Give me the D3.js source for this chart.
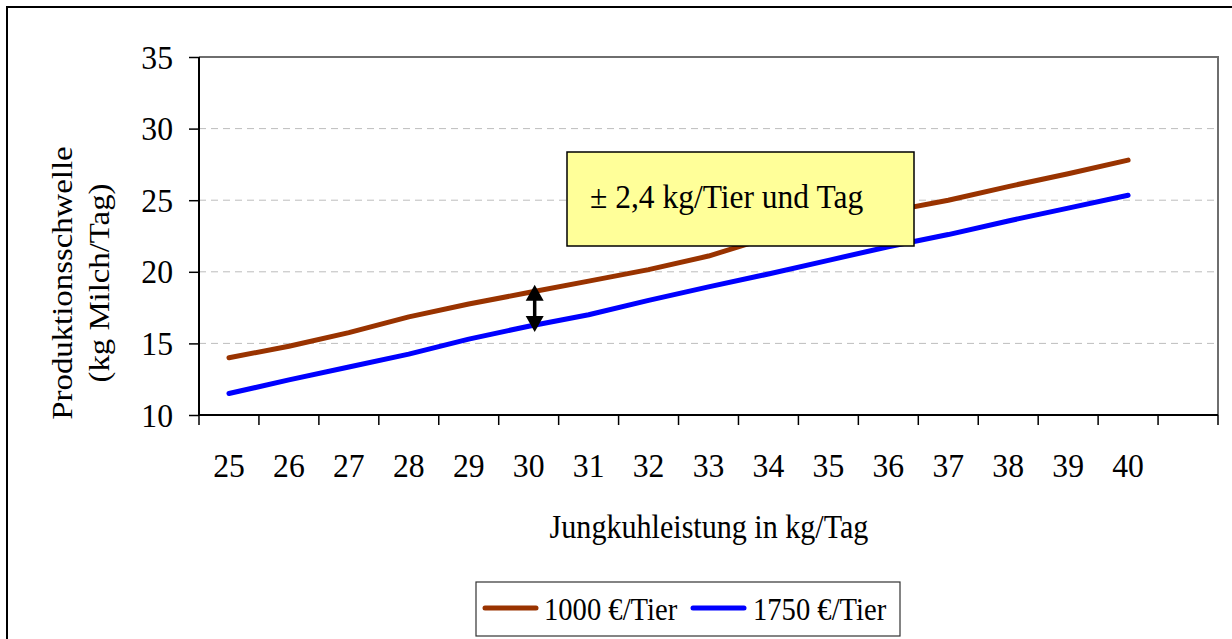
<!DOCTYPE html>
<html><head><meta charset="utf-8">
<script src="https://cdn.jsdelivr.net/npm/d3@7"></script>
<style>html,body{margin:0;padding:0;background:#fff;}svg{display:block;}</style>
</head><body>
<script>
const categories = ["25","26","27","28","29","30","31","32","33","34","35","36","37","38","39","40"];
const xDomain = categories.concat([""]);
const series1000 = [14.0,14.8,15.75,16.85,17.75,18.55,19.35,20.15,21.1,22.4,23.3,24.2,25.0,25.95,26.85,27.8];
const series1750 = [11.5,12.45,13.35,14.25,15.3,16.2,17.0,18.0,18.95,19.85,20.8,21.75,22.6,23.55,24.45,25.35];
const yTicks = [10,15,20,25,30,35];
const gridTicks = [15,20,25,30];
const seriesNames = ["1000 €/Tier","1750 €/Tier"];
const seriesColors = ["#993300","#0000FF"];
const annotationText = "± 2,4 kg/Tier und Tag";
const arrowRange = [19.1, 15.8];

const W = 1232, H = 639, SY = 1.09;
const FONT = "'Liberation Serif','Times New Roman',serif";
const svg = d3.select("body").append("svg").attr("width", W).attr("height", H);
svg.append("rect").attr("width", W).attr("height", H).attr("fill", "#fff");

// outer frame
svg.append("path").attr("d", "M7,"+(H+5)+" L7,7 L"+(W+5)+",7").attr("fill","none").attr("stroke","#000").attr("stroke-width",2);

const L = 199, R = 1218, T = 57, B = 415;
const x = d3.scaleBand().domain(xDomain).range([L, R]);
const y = d3.scaleLinear().domain([10, 35]).range([B, T]);

function txt(g, px, py, s, size, anchor) {
  return g.append("text").attr("transform", `translate(${px},${py}) scale(1,${SY})`)
    .attr("font-family", FONT).attr("font-size", size).attr("text-anchor", anchor || "start")
    .attr("fill", "#000").text(s);
}

// gridlines
svg.append("g").selectAll("line").data(gridTicks).join("line")
  .attr("x1", L).attr("x2", R).attr("y1", d => y(d)).attr("y2", d => y(d))
  .attr("stroke", "#bdbdbd").attr("stroke-width", 1).attr("stroke-dasharray", "7,5");

// plot border top/right
svg.append("path").attr("d", `M${L},${T} L${R},${T} L${R},${B}`).attr("fill","none").attr("stroke","#6e6e6e").attr("stroke-width",2);

// y axis
const yAxis = d3.axisLeft(y).tickValues(yTicks).tickSize(10).tickFormat("");
const gy = svg.append("g").attr("transform", `translate(${L},0)`).call(yAxis);
gy.select(".domain").attr("stroke", "#000").attr("stroke-width", 2).attr("d", `M0,${T}V${B}`);
gy.selectAll(".tick line").attr("stroke", "#000").attr("stroke-width", 1.5);
yTicks.forEach(v => txt(svg, 173, y(v) + 11.5, String(v), 31.7, "end"));

// x axis ticks at band boundaries
const bounds = xDomain.map(d => x(d)).concat([R]);
const gx = svg.append("g");
gx.append("line").attr("x1", L).attr("x2", R).attr("y1", B).attr("y2", B).attr("stroke","#000").attr("stroke-width",2);
gx.selectAll("line.t").data(bounds).join("line").attr("class","t")
  .attr("x1", d => d).attr("x2", d => d).attr("y1", B).attr("y2", B + 10)
  .attr("stroke", "#000").attr("stroke-width", 1.5);
categories.forEach(c => txt(svg, x(c) + x.bandwidth()/2, 477, c, 31.7, "middle"));

// axis titles
txt(svg, 709, 538, "Jungkuhleistung in kg/Tag", 30.1, "middle");
const yt = svg.append("g").attr("transform", `translate(0,283) scale(1,${SY})`);
yt.append("text").attr("transform", "translate(72,0) rotate(-90)").attr("font-family", FONT)
  .attr("font-size", 30.1).attr("text-anchor","middle").text("Produktionsschwelle");
yt.append("text").attr("transform", "translate(109,0) rotate(-90)").attr("font-family", FONT)
  .attr("font-size", 30.1).attr("text-anchor","middle").text("(kg Milch/Tag)");

// lines
const line = d3.line().x((d, i) => x(categories[i]) + x.bandwidth()/2).y(d => y(d));
[series1000, series1750].forEach((s, k) => {
  svg.append("path").datum(s).attr("d", line).attr("fill","none")
    .attr("stroke", seriesColors[k]).attr("stroke-width", 5)
    .attr("stroke-linecap","round").attr("stroke-linejoin","round");
});

// annotation box
const bx = 567, by = 152, bw = 347, bh = 94;
svg.append("rect").attr("x", bx).attr("y", by).attr("width", bw).attr("height", bh)
  .attr("fill", "#FFFF99").attr("stroke", "#000").attr("stroke-width", 1.5);
txt(svg, 590, 208, annotationText, 31.5, "start");

// double arrow
const ax = x("30") + x.bandwidth()/2 + 6;
const ay1 = y(arrowRange[0]), ay2 = y(arrowRange[1]);
const hw = 9, hl = 16;
svg.append("line").attr("x1", ax).attr("x2", ax).attr("y1", ay1 + hl - 2).attr("y2", ay2 - hl + 2)
  .attr("stroke", "#000").attr("stroke-width", 3.5);
svg.append("path").attr("d", `M${ax},${ay1} L${ax-hw},${ay1+hl} L${ax+hw},${ay1+hl} Z`).attr("fill","#000");
svg.append("path").attr("d", `M${ax},${ay2} L${ax-hw},${ay2-hl} L${ax+hw},${ay2-hl} Z`).attr("fill","#000");

// legend
const lg = svg.append("g");
lg.append("rect").attr("x", 476).attr("y", 582).attr("width", 424).attr("height", 54)
  .attr("fill", "#fff").attr("stroke", "#333").attr("stroke-width", 1.2);
const legX = [[485, 544], [693, 753]];
seriesNames.forEach((n, k) => {
  lg.append("line").attr("x1", legX[k][0]).attr("x2", legX[k][0] + 51).attr("y1", 608).attr("y2", 608)
    .attr("stroke", seriesColors[k]).attr("stroke-width", 5).attr("stroke-linecap","round");
  txt(lg, legX[k][1], 620, n, 28.6, "start");
});
</script>
</body></html>
